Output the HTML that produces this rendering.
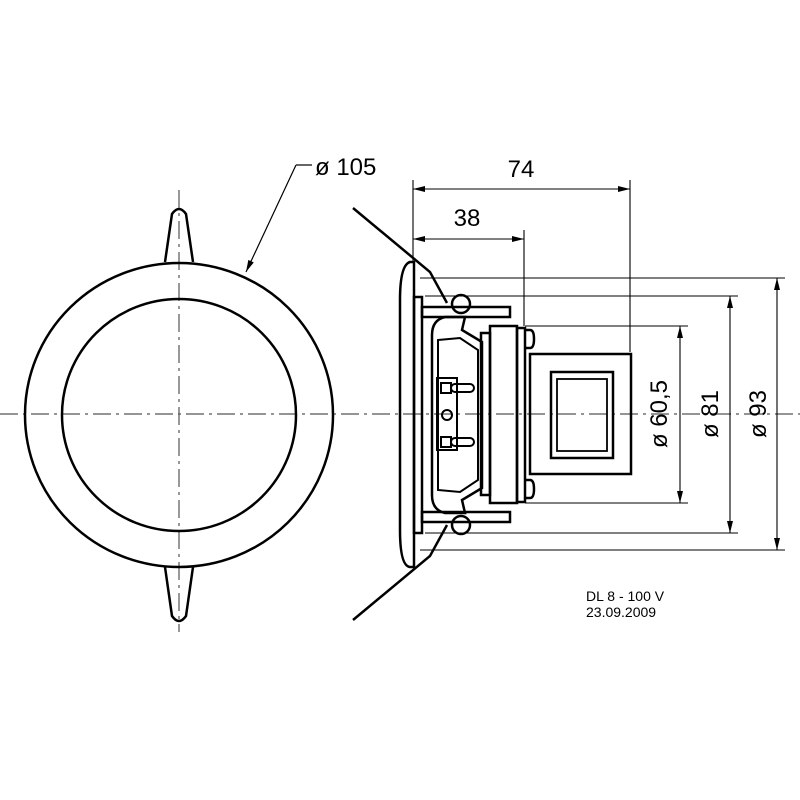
<!DOCTYPE html>
<html><head><meta charset="utf-8"><style>html,body{margin:0;padding:0;background:#fff}svg{display:block}</style></head>
<body>
<svg width="800" height="800" viewBox="0 0 800 800" xmlns="http://www.w3.org/2000/svg" font-family="Liberation Sans, sans-serif">
<defs>
<marker id="a" viewBox="0 0 12 6" refX="12" refY="3" markerWidth="12" markerHeight="6" orient="auto-start-reverse" markerUnits="userSpaceOnUse"><path d="M0,0 L12,3 L0,6 z" fill="#000"/></marker>
</defs>
<g fill="none" stroke="#000">
<!-- center lines -->
<g stroke="#555" stroke-width="1.2" stroke-dasharray="18,5,3,5">
<line x1="0" y1="414" x2="800" y2="414"/>
<line x1="179" y1="190" x2="179" y2="632"/>
</g>
<!-- left view -->
<g stroke-width="2.5">
<ellipse cx="179" cy="415" rx="154" ry="152"/>
<ellipse cx="179" cy="415" rx="117" ry="116"/>
<path d="M165,262 L172,214 Q179,204 186,214 L193,262"/>
<path d="M165,567 L172,616 Q179,626 186,616 L193,567"/>
</g>
<!-- leader 105 -->
<line x1="312" y1="165" x2="296" y2="165" stroke-width="1.2"/>
<line x1="296" y1="165" x2="246" y2="272" stroke-width="1.2" marker-end="url(#a)"/>
<!-- right view -->
<g stroke-width="2.5">
<path d="M353,208 L430,272 L447,303"/>
<path d="M353,620 L430,556 L447,525"/>
<path d="M410,262 Q400,265 400,300 L400,530 Q400,566 410,567 L414,567 L414,262 Z"/>
<rect x="414" y="297" width="8" height="236"/>
<rect x="422" y="307" width="88" height="10"/>
<rect x="422" y="512" width="88" height="10"/>
<circle cx="461" cy="304" r="9"/>
<circle cx="461" cy="525" r="9"/>
<path d="M445,317 Q432,320 432,335 L432,495 Q432,510 445,513 L465,513 L462,500 L482,488 L482,342 L462,330 L465,317 Z"/>
<path d="M438,340 L460,338 L478,350 L478,480 L460,492 L438,490 Z" stroke-width="2"/>
<rect x="481" y="333" width="9" height="162"/>
<rect x="490" y="326" width="27" height="177"/>
<rect x="517" y="328" width="8" height="174"/>
<path d="M525,330 L530,330 Q534,330 534,339 Q534,348 530,348 L525,348"/>
<path d="M525,480 L530,480 Q534,480 534,489 Q534,498 530,498 L525,498"/>
<rect x="530" y="354" width="101" height="120"/>
<rect x="551" y="372" width="62" height="86"/>
<rect x="557" y="379" width="50" height="72" stroke-width="1.8"/>
</g>
<g stroke-width="2">
<rect x="437" y="378" width="20" height="72"/>
<rect x="441" y="383" width="10" height="10"/>
<rect x="441" y="437" width="10" height="10"/>
<rect x="451" y="384" width="23" height="8" rx="4"/>
<rect x="451" y="438" width="23" height="8" rx="4"/>
<circle cx="447" cy="415" r="5"/>
</g>
<!-- dimension lines -->
<g stroke-width="1.1">
<line x1="413" y1="180" x2="413" y2="262"/>
<line x1="630" y1="180" x2="630" y2="352"/>
<line x1="524" y1="230" x2="524" y2="326"/>
<line x1="413" y1="189" x2="630" y2="189" marker-start="url(#a)" marker-end="url(#a)"/>
<line x1="413" y1="239" x2="524" y2="239" marker-start="url(#a)" marker-end="url(#a)"/>
<line x1="420" y1="278" x2="785" y2="278"/>
<line x1="420" y1="550" x2="785" y2="550"/>
<line x1="425" y1="296" x2="738" y2="296"/>
<line x1="425" y1="533" x2="738" y2="533"/>
<line x1="525" y1="326" x2="688" y2="326"/>
<line x1="525" y1="503" x2="688" y2="503"/>
<line x1="777" y1="278" x2="777" y2="550" marker-start="url(#a)" marker-end="url(#a)"/>
<line x1="730" y1="296" x2="730" y2="533" marker-start="url(#a)" marker-end="url(#a)"/>
<line x1="680" y1="326" x2="680" y2="503" marker-start="url(#a)" marker-end="url(#a)"/>
</g>
</g>
<g fill="#000" font-size="24">
<text x="315" y="175">ø 105</text>
<text x="521" y="177" text-anchor="middle">74</text>
<text x="467" y="226" text-anchor="middle">38</text>
<text transform="translate(667,414) rotate(-90)" text-anchor="middle">ø 60,5</text>
<text transform="translate(718,414) rotate(-90)" text-anchor="middle">ø 81</text>
<text transform="translate(766,414) rotate(-90)" text-anchor="middle">ø 93</text>
<text x="586" y="601" font-size="14">DL 8 - 100 V</text>
<text x="586" y="617" font-size="14">23.09.2009</text>
</g>
</svg>
</body></html>
